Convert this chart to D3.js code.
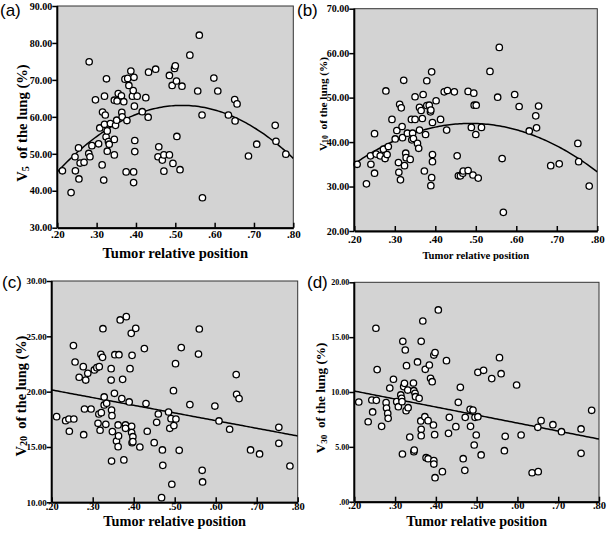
<!DOCTYPE html>
<html>
<head>
<meta charset="utf-8">
<script src="https://cdn.jsdelivr.net/npm/d3@7"></script>
<style>
  body { margin: 0; background: #fff; }
  svg { display: block; }
  .tick-label { font-family: "Liberation Serif", "Times New Roman", serif; font-weight: bold; }
  .title { font-family: "Liberation Serif", "Times New Roman", serif; font-weight: bold; }
  .panel-label { font-family: "Liberation Sans", Arial, sans-serif; }
</style>
</head>
<body>
<div id="chart"></div>
<script>
// ---- data (tumor relative position, % of lung) ----
let xTicks = [0.2, 0.3, 0.4, 0.5, 0.6, 0.7, 0.8]

let v5Ticks = [30, 40, 50, 60, 70, 80, 90]
let v10Ticks = [20, 30, 40, 50, 60, 70]
let v20Ticks = [10, 15, 20, 25, 30]
let v30Ticks = [0, 5, 10, 15, 20]

let v5Points = [
  [0.213, 45.4], [0.235, 39.5], [0.245, 49.2], [0.246, 45.4], [0.254, 51.6], [0.255, 43.2],
  [0.258, 47.5], [0.268, 47.7], [0.28, 50.1], [0.281, 74.9], [0.283, 49.2], [0.288, 52.2],
  [0.297, 64.6], [0.305, 52.7], [0.308, 57.0], [0.314, 47.0], [0.315, 61.3], [0.318, 42.9],
  [0.32, 65.6], [0.32, 58.0], [0.322, 60.5], [0.324, 54.6], [0.325, 70.3], [0.327, 56.2],
  [0.327, 50.7], [0.33, 53.3], [0.332, 52.6], [0.335, 58.2], [0.345, 53.9], [0.345, 49.7],
  [0.345, 64.5], [0.348, 57.7], [0.351, 59.1], [0.352, 64.3], [0.355, 66.3], [0.363, 65.7],
  [0.364, 61.2], [0.365, 60.0], [0.369, 64.1], [0.372, 70.2], [0.375, 45.1], [0.377, 59.0],
  [0.379, 70.4], [0.382, 68.5], [0.387, 72.4], [0.391, 65.6], [0.393, 67.1], [0.394, 42.2],
  [0.394, 45.1], [0.395, 70.7], [0.396, 62.9], [0.397, 53.6], [0.397, 50.6], [0.403, 65.6],
  [0.416, 61.4], [0.425, 65.2], [0.431, 59.9], [0.432, 72.1], [0.45, 72.9], [0.458, 51.9],
  [0.456, 49.2], [0.467, 48.3], [0.471, 49.7], [0.471, 45.3], [0.485, 71.2], [0.485, 49.7],
  [0.492, 68.5], [0.494, 47.4], [0.498, 73.1], [0.5, 73.8], [0.503, 69.7], [0.504, 54.7],
  [0.512, 45.7], [0.517, 68.3], [0.537, 76.7], [0.557, 67.0], [0.561, 82.1], [0.568, 60.5],
  [0.569, 38.1], [0.598, 70.5], [0.608, 67.0], [0.635, 60.5], [0.651, 64.7], [0.652, 58.9],
  [0.657, 63.5], [0.686, 49.4], [0.707, 52.6], [0.754, 57.7], [0.756, 53.4], [0.781, 49.9]
]

let v10Points = [
  [0.207, 35.0], [0.23, 30.6], [0.24, 36.9], [0.241, 35.0], [0.25, 41.9], [0.25, 33.0],
  [0.254, 37.3], [0.264, 36.9], [0.272, 38.4], [0.276, 36.3], [0.278, 51.5], [0.281, 37.2],
  [0.284, 39.0], [0.293, 45.1], [0.301, 40.7], [0.305, 42.6], [0.309, 35.4], [0.31, 33.2],
  [0.312, 48.5], [0.314, 31.5], [0.316, 47.7], [0.318, 43.5], [0.319, 41.0], [0.322, 53.9],
  [0.324, 34.7], [0.327, 37.5], [0.328, 36.5], [0.331, 42.0], [0.338, 36.1], [0.341, 45.1],
  [0.342, 40.5], [0.344, 42.0], [0.346, 40.8], [0.35, 50.2], [0.35, 45.1], [0.356, 39.7],
  [0.359, 38.6], [0.361, 42.7], [0.361, 47.8], [0.365, 47.1], [0.368, 45.3], [0.37, 50.7],
  [0.373, 33.5], [0.376, 41.7], [0.379, 53.8], [0.379, 48.2], [0.385, 48.3], [0.388, 46.8],
  [0.389, 47.2], [0.389, 30.2], [0.391, 32.0], [0.391, 55.8], [0.393, 35.6], [0.393, 37.2],
  [0.393, 44.4], [0.402, 49.3], [0.413, 45.1], [0.422, 51.3], [0.428, 42.7], [0.43, 51.6],
  [0.447, 51.3], [0.454, 36.9], [0.457, 32.4], [0.462, 32.4], [0.468, 33.0], [0.469, 33.5],
  [0.481, 51.4], [0.481, 33.6], [0.489, 43.3], [0.493, 32.6], [0.495, 51.0], [0.496, 48.3],
  [0.501, 48.3], [0.5, 41.7], [0.506, 31.9], [0.514, 43.3], [0.535, 55.9], [0.554, 50.1],
  [0.558, 61.3], [0.565, 36.3], [0.568, 24.2], [0.596, 50.7], [0.607, 48.0], [0.632, 42.5],
  [0.648, 45.9], [0.65, 43.2], [0.655, 48.1], [0.685, 34.7], [0.706, 35.1], [0.752, 39.7],
  [0.754, 35.6], [0.78, 30.1]
]

let v20Points = [
  [0.212, 17.74], [0.234, 17.38], [0.242, 17.53], [0.243, 16.42], [0.253, 24.16], [0.254, 17.53],
  [0.257, 22.68], [0.267, 21.3], [0.277, 22.26], [0.278, 16.11], [0.28, 18.43], [0.283, 21.05],
  [0.288, 21.66], [0.296, 18.43], [0.304, 21.96], [0.31, 22.17], [0.313, 17.14], [0.315, 17.98],
  [0.316, 22.26], [0.318, 16.51], [0.32, 23.37], [0.321, 18.1], [0.324, 23.1], [0.325, 25.69],
  [0.328, 19.52], [0.328, 18.8], [0.332, 17.05], [0.334, 18.95], [0.345, 21.05], [0.345, 22.08],
  [0.346, 18.34], [0.347, 17.83], [0.346, 13.73], [0.348, 16.39], [0.353, 19.85], [0.354, 23.34],
  [0.358, 15.54], [0.362, 15.03], [0.362, 16.99], [0.363, 16.0], [0.364, 23.34], [0.367, 26.48],
  [0.371, 19.37], [0.373, 21.11], [0.376, 13.83], [0.38, 16.99], [0.382, 26.78], [0.38, 16.69],
  [0.389, 19.07], [0.391, 22.08], [0.394, 25.27], [0.395, 16.87], [0.395, 16.3], [0.396, 23.28],
  [0.396, 15.39], [0.398, 15.93], [0.398, 15.48], [0.405, 25.72], [0.415, 15.0], [0.426, 23.89],
  [0.43, 18.92], [0.433, 16.42], [0.45, 15.39], [0.456, 17.23], [0.46, 17.98], [0.468, 10.42],
  [0.47, 14.73], [0.471, 13.34], [0.485, 18.16], [0.488, 16.69], [0.491, 17.56], [0.493, 11.63],
  [0.497, 20.09], [0.498, 16.93], [0.502, 22.53], [0.503, 17.53], [0.511, 14.7], [0.516, 23.98],
  [0.537, 18.83], [0.558, 23.4], [0.56, 25.66], [0.567, 12.89], [0.568, 11.84], [0.598, 18.7],
  [0.608, 17.35], [0.634, 16.6], [0.65, 21.54], [0.651, 19.76], [0.657, 19.37], [0.685, 14.73],
  [0.707, 14.37], [0.754, 16.78], [0.754, 15.33], [0.781, 13.28]
]

let v30Points = [
  [0.211, 9.09], [0.234, 7.29], [0.243, 9.27], [0.245, 8.18], [0.253, 15.81], [0.254, 9.24],
  [0.256, 12.04], [0.267, 6.87], [0.278, 9.03], [0.279, 8.54], [0.282, 8.05], [0.283, 7.6],
  [0.287, 10.36], [0.296, 11.16], [0.304, 9.12], [0.308, 8.66], [0.314, 9.73], [0.316, 9.42],
  [0.317, 9.12], [0.318, 4.35], [0.319, 14.62], [0.321, 10.49], [0.323, 10.79], [0.325, 13.83],
  [0.327, 8.3], [0.328, 12.4], [0.331, 10.18], [0.332, 8.57], [0.336, 5.9], [0.345, 10.82],
  [0.346, 4.56], [0.347, 4.71], [0.346, 10.12], [0.349, 9.88], [0.35, 9.57], [0.355, 12.74],
  [0.359, 9.42], [0.363, 7.36], [0.364, 14.62], [0.364, 6.6], [0.364, 6.02], [0.368, 16.47],
  [0.373, 7.75], [0.374, 12.07], [0.376, 4.01], [0.381, 3.92], [0.381, 7.39], [0.384, 12.46],
  [0.387, 11.25], [0.391, 10.94], [0.395, 3.74], [0.395, 3.43], [0.394, 6.99], [0.395, 13.37],
  [0.398, 13.59], [0.397, 6.11], [0.398, 2.19], [0.406, 17.48], [0.416, 2.74], [0.426, 12.86],
  [0.431, 6.23], [0.433, 7.69], [0.449, 6.84], [0.455, 9.06], [0.46, 10.43], [0.467, 3.92],
  [0.471, 2.86], [0.472, 7.69], [0.484, 8.42], [0.485, 6.87], [0.491, 8.36], [0.494, 5.17],
  [0.496, 7.69], [0.499, 6.08], [0.503, 7.75], [0.503, 11.79], [0.511, 4.26], [0.517, 11.98],
  [0.537, 11.22], [0.556, 13.13], [0.56, 11.67], [0.568, 4.65], [0.57, 5.96], [0.598, 10.64],
  [0.609, 6.08], [0.636, 2.64], [0.65, 6.78], [0.651, 2.74], [0.658, 7.39], [0.687, 7.02],
  [0.708, 6.38], [0.756, 6.63], [0.756, 4.41], [0.782, 8.33]
]

// fitted curves, coefficients c0 + c1*x + c2*x^2
let v5Fit = [15.25, 185.1, -179]
let v10Fit = [17.96, 107.83, -110.8]
let v20Fit = [21.54, -6.93, 0]
let v30Fit = [11.55, -7.3, 0]

let panels = [
  { label: '(a)', labelX: 0, labelY: 16, sub: '5', points: v5Points, fit: v5Fit, yTicks: v5Ticks,
    left: 57.3, right: 293.3, top: 6, bottom: 227.7, yFont: 10, xFont: 11, xPad: 3,
    titleFont: 14.6, titleY: 258, yTitleX: 27, yTitleY: 123, yTitleFont: 14.6 },
  { label: '(b)', labelX: 297, labelY: 16, sub: '10', points: v10Points, fit: v10Fit, yTicks: v10Ticks,
    left: 354.3, right: 597.3, top: 8.7, bottom: 231, yFont: 10, xFont: 11, xPad: 4,
    titleFont: 10.7, titleY: 259, yTitleX: 326.5, yTitleY: 104, yTitleFont: 11.2 },
  { label: '(c)', labelX: 2, labelY: 288, sub: '20', points: v20Points, fit: v20Fit, yTicks: v20Ticks,
    left: 51.7, right: 297.7, top: 281, bottom: 502.3, yFont: 9, xFont: 10.5, xPad: 0,
    titleFont: 14.3, titleY: 525.5, yTitleX: 25.5, yTitleY: 396, yTitleFont: 14.4 },
  { label: '(d)', labelX: 307, labelY: 288, sub: '30', points: v30Points, fit: v30Fit, yTicks: v30Ticks,
    left: 354.3, right: 599, top: 282.3, bottom: 501.7, yFont: 8, xFont: 10.5, xPad: 0,
    titleFont: 14.1, titleY: 525.5, yTitleX: 325, yTitleY: 398, yTitleFont: 13.2 }
]

let svg = d3
  .select('#chart')
  .append('svg')
  .attr('width', 610)
  .attr('height', 543)

let fmt = d3.format('.2f')
let strip0 = s => s.replace(/^0\./, '.')

panels.forEach(drawPanel)

function drawPanel(p) {
  let x = d3.scaleLinear().domain([0.2, 0.8]).range([p.left, p.right])
  let y = d3
    .scaleLinear()
    .domain(d3.extent(p.yTicks))
    .range([p.bottom, p.top])

  let g = svg.append('g')

  g.append('rect')
    .attr('x', p.left)
    .attr('y', p.top)
    .attr('width', p.right - p.left)
    .attr('height', p.bottom - p.top)
    .attr('fill', '#d3d3d3')
    .attr('stroke', '#333')
    .attr('stroke-width', 1)

  // fit line, clipped to the plot box
  let clipId = 'clip' + p.sub
  g.append('clipPath')
    .attr('id', clipId)
    .append('rect')
    .attr('x', p.left)
    .attr('y', p.top)
    .attr('width', p.right - p.left)
    .attr('height', p.bottom - p.top)

  let xs = d3.range(0.2, 0.8001, 0.005)
  let line = d3
    .line()
    .x(d => x(d))
    .y(d => y(p.fit[0] + p.fit[1] * d + p.fit[2] * d * d))

  g.append('path')
    .datum(xs)
    .attr('d', line)
    .attr('fill', 'none')
    .attr('stroke', '#000')
    .attr('stroke-width', 1.5)
    .attr('clip-path', `url(#${clipId})`)

  g.append('g')
    .selectAll('circle')
    .data(p.points)
    .enter()
    .append('circle')
    .attr('cx', d => x(d[0]))
    .attr('cy', d => y(d[1]))
    .attr('r', 3.2)
    .attr('fill', '#fff')
    .attr('stroke', '#000')
    .attr('stroke-width', 1.3)

  // y axis: ticks outward, thick line
  let yAxis = d3
    .axisLeft(y)
    .tickValues(p.yTicks)
    .tickSize(5)
    .tickPadding(0)
    .tickFormat(d => strip0(fmt(d)))

  let ya = g.append('g')
    .attr('transform', `translate(${p.left},0)`)
    .call(yAxis)
  ya.select('.domain').attr('stroke-width', 2).attr('d', `M0,${p.top}V${p.bottom}`)
  ya.selectAll('.tick line').attr('stroke-width', 1.5)
  ya.selectAll('text')
    .attr('class', 'tick-label')
    .style('font-size', p.yFont + 'px')
    .attr('fill', '#000')

  // x axis: ticks pointing inward
  let xAxis = d3
    .axisBottom(x)
    .tickValues(xTicks)
    .tickSizeInner(-5)
    .tickSizeOuter(0)
    .tickPadding(p.xPad)
    .tickFormat(d => strip0(fmt(d)))

  let xa = g.append('g')
    .attr('transform', `translate(0,${p.bottom})`)
    .call(xAxis)
  xa.select('.domain').attr('stroke-width', 2)
  xa.selectAll('.tick line').attr('stroke-width', 1.5)
  xa.selectAll('text')
    .attr('class', 'tick-label')
    .style('font-size', p.xFont + 'px')
    .attr('fill', '#000')

  // titles
  g.append('text')
    .attr('class', 'title')
    .attr('x', (p.left + p.right) / 2)
    .attr('y', p.titleY)
    .attr('text-anchor', 'middle')
    .style('font-size', p.titleFont + 'px')
    .text('Tumor relative position')

  let yt = g.append('text')
    .attr('class', 'title')
    .attr('transform', `translate(${p.yTitleX},${p.yTitleY}) rotate(-90)`)
    .attr('text-anchor', 'middle')
    .style('font-size', p.yTitleFont + 'px')
  yt.append('tspan').text('V')
  yt.append('tspan')
    .attr('dy', p.yTitleFont * 0.12)
    .style('font-size', p.yTitleFont * 0.7 + 'px')
    .text(p.sub)
  yt.append('tspan')
    .attr('dy', -p.yTitleFont * 0.12)
    .text('\u00a0 of the lung (%)')

  g.append('text')
    .attr('class', 'panel-label')
    .attr('x', p.labelX)
    .attr('y', p.labelY)
    .style('font-size', '17px')
    .text(p.label)
}
</script>
</body>
</html>
